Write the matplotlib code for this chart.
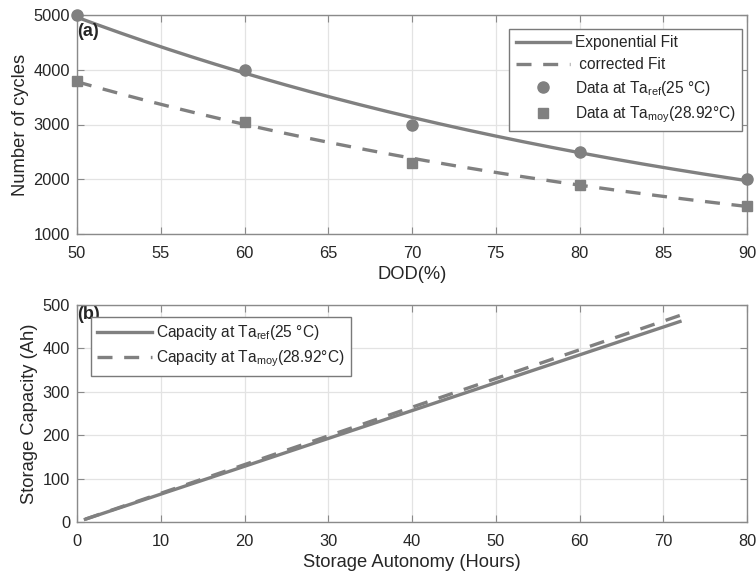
import numpy as np
import matplotlib
matplotlib.use("Agg")
import matplotlib.pyplot as plt

plt.rcParams['font.family'] = ['Liberation Sans', 'DejaVu Sans']

# (a) cycle life vs depth of discharge
dod = [50, 60, 70, 80, 90]
cycles_ref = [5000, 4000, 3000, 2500, 2000]
cycles_moy = [3800, 3050, 2300, 1900, 1520]

# (b) storage capacity vs autonomy
autonomy = [1, 72]
capacity_ref = [6.4, 462]
capacity_moy = [6.6, 476]

GRAY = '#808080'
SPINE = '#8a8a8a'
TXT = '#262626'


def exp_fit(x, y):
    b, ln_a = np.polyfit(x, np.log(y), 1)
    xs = np.linspace(min(x), max(x), 200)
    return xs, np.exp(ln_a) * np.exp(b * xs)


def style(ax):
    ax.grid(True, color='#e3e3e3', linewidth=0.9)
    ax.set_axisbelow(True)
    for s in ax.spines.values():
        s.set_color(SPINE)
        s.set_linewidth(1.0)
    ax.tick_params(direction='in', length=5, color=SPINE, labelsize=11.8,
                   labelcolor=TXT, top=True, right=True)
    ax.tick_params(axis='x', pad=9)
    ax.tick_params(axis='y', pad=5)


def legend_style(leg):
    leg.get_frame().set_linewidth(1.0)
    for t in leg.get_texts():
        t.set_color(TXT)


LEG_KW = dict(fontsize=11.2, frameon=True, fancybox=False, edgecolor='#7a7a7a',
              handlelength=3.5, borderpad=0.4, labelspacing=0.42,
              handletextpad=0.3, borderaxespad=0, framealpha=1)

fig = plt.figure(figsize=(7.56, 5.77), dpi=100)
ax1 = fig.add_axes([77 / 756, 1 - 234 / 577, 670 / 756, 219 / 577])
ax2 = fig.add_axes([77 / 756, 1 - 522 / 577, 670 / 756, 217 / 577])

xs, ys = exp_fit(dod, cycles_ref)
ax1.plot(xs, ys, color=GRAY, lw=2.4, label='Exponential Fit', clip_on=False, zorder=3)
xs, ys = exp_fit(dod, cycles_moy)
ax1.plot(xs, ys, color=GRAY, lw=2.4, ls=(0, (4.5, 3.5)), label=' corrected Fit',
         clip_on=False, zorder=3)
ax1.plot(dod, cycles_ref, 'o', color=GRAY, ms=8, ls='none',
         label=r'Data at Ta$_{\mathregular{ref}}$(25 °C)', clip_on=False, zorder=4)
ax1.plot(dod, cycles_moy, 's', color=GRAY, ms=6.5, ls='none',
         label=r'Data at Ta$_{\mathregular{moy}}$(28.92°C)', clip_on=False, zorder=4)
ax1.set_xlim(50, 90)
ax1.set_ylim(1000, 5000)
ax1.set_xticks(np.arange(50, 91, 5))
ax1.set_yticks(np.arange(1000, 5001, 1000))
ax1.set_xlabel('DOD(%)', fontsize=13.2, color=TXT, labelpad=3)
ax1.set_ylabel('Number of cycles', fontsize=13.2, color=TXT, labelpad=3)
style(ax1)
ax1.text(0.0, 0.965, '(a)', transform=ax1.transAxes, fontsize=13,
         fontweight='bold', va='top', ha='left', color=TXT)
leg1 = ax1.legend(loc='upper right', bbox_to_anchor=(0.9925, 0.935), **LEG_KW)
legend_style(leg1)

ax2.plot(autonomy, capacity_ref, color=GRAY, lw=2.4,
         label=r'Capacity at Ta$_{\mathregular{ref}}$(25 °C)', zorder=3)
ax2.plot(autonomy, capacity_moy, color=GRAY, lw=2.4, ls=(0, (4.5, 3.5)),
         label=r'Capacity at Ta$_{\mathregular{moy}}$(28.92°C)', zorder=3)
ax2.set_xlim(0, 80)
ax2.set_ylim(0, 500)
ax2.set_xticks(np.arange(0, 81, 10))
ax2.set_yticks(np.arange(0, 501, 100))
ax2.set_xlabel('Storage Autonomy (Hours)', fontsize=13.2, color=TXT, labelpad=3)
ax2.set_ylabel('Storage Capacity (Ah)', fontsize=13.2, color=TXT, labelpad=3)
style(ax2)
ax2.text(0.0, 0.995, '(b)', transform=ax2.transAxes, fontsize=13,
         fontweight='bold', va='top', ha='left', color=TXT, zorder=1)
leg2 = ax2.legend(loc='upper left', bbox_to_anchor=(0.021, 0.945), **LEG_KW)
leg2.set_zorder(5)
legend_style(leg2)

fig.savefig('out.png', dpi=100, facecolor='white')
